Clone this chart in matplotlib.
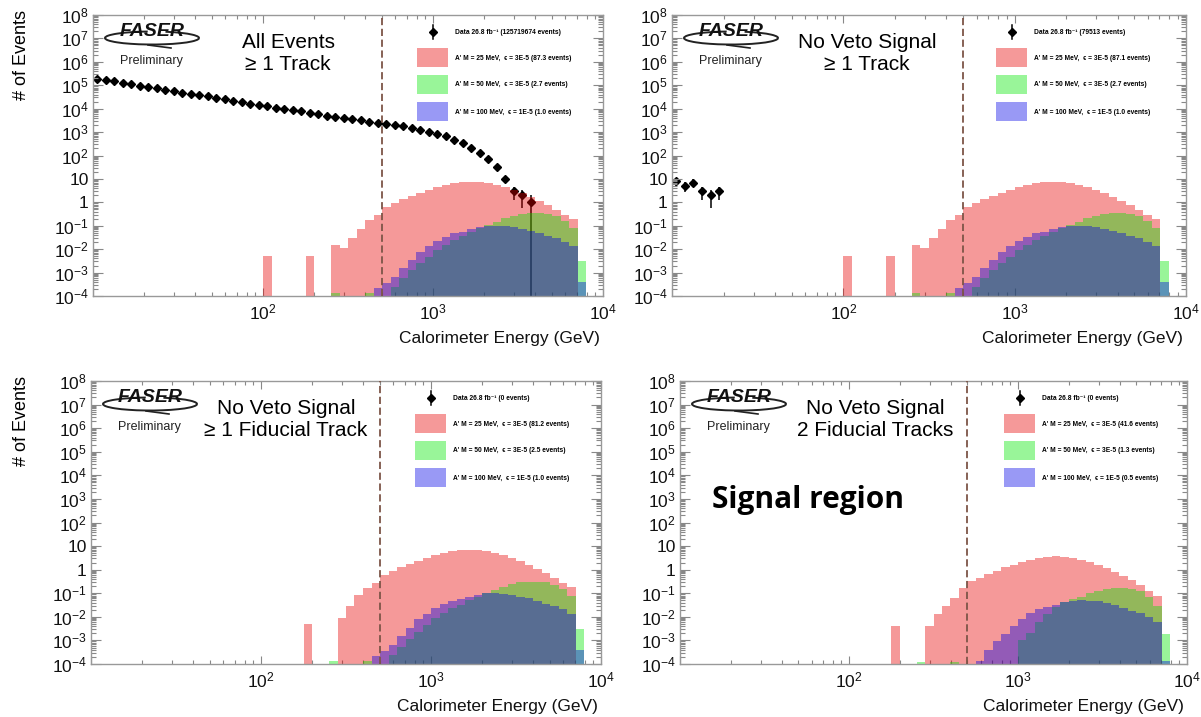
import numpy as np
import matplotlib
matplotlib.use('Agg')
import matplotlib.pyplot as plt
from matplotlib.patches import Rectangle, Arc
from matplotlib.ticker import FixedLocator, FixedFormatter, NullFormatter

plt.rcParams['font.family'] = ['Liberation Sans', 'DejaVu Sans']
plt.rcParams['mathtext.fontset'] = 'custom'
plt.rcParams['mathtext.rm'] = 'Liberation Sans'
plt.rcParams['mathtext.it'] = 'Liberation Sans:italic'
plt.rcParams['mathtext.bf'] = 'Liberation Sans:bold'

# binning: 20 bins per decade starting at 10 GeV
log_edges = np.round(np.arange(1.0, 3.901, 0.05), 2)
edges = 10 ** log_edges
sig_edges = edges[20:]          # signal histograms start at 100 GeV
centers = np.sqrt(edges[:-1] * edges[1:])

# data counts, one per bin from 10 GeV
data_all = [182000, 162000, 145000, 126000, 110000, 95500, 83000, 74000, 64500, 56000,
            49000, 42700, 37200, 33100, 28800, 25100, 21900, 19000, 16600, 14800,
            12900, 11200, 10000, 8700, 7600, 6800, 5900, 5100, 4600, 4000,
            3550, 3160, 2800, 2500, 2240, 2000, 1740, 1510, 1260, 1050,
            850, 660, 480, 330, 214, 126, 71, 32, 10, 3,
            2, 1]
data_noveto = [8, 5, 7, 3, 2, 3]

# signal expectations, bins from 10^2.00 to 10^3.90 GeV
red_1trk = [0.005, 0, 0, 0, 0, 0.005, 0, 0,
            0.015, 0.011, 0.03, 0.072, 0.18, 0.29, 0.62, 0.91, 1.35, 1.86,
            2.6, 3.4, 4.5, 5.5, 6.6, 7.2, 7.6, 7.2, 6.6, 5.5,
            4.5, 3.4, 2.45, 1.74, 1.17, 0.78, 0.48, 0.29, 0.19, 0]
green_1trk = [0, 0, 0, 0, 0, 0, 0, 0,
              0.00013, 0, 0, 0, 0.00013, 0, 0, 0.00025, 0.00058, 0.0013,
              0.0025, 0.0048, 0.0093, 0.015, 0.025, 0.036, 0.056, 0.078, 0.107, 0.15,
              0.21, 0.26, 0.32, 0.34, 0.34, 0.31, 0.25, 0.16, 0.08, 0.003]
blue_1trk = [0, 0, 0, 0, 0, 0, 0, 0,
             0, 0, 0, 0, 0, 0.00021, 0.00035, 0.00066, 0.0015, 0.0035,
             0.0078, 0.013, 0.023, 0.034, 0.048, 0.056, 0.071, 0.087, 0.098, 0.098,
             0.095, 0.087, 0.072, 0.062, 0.048, 0.036, 0.030, 0.021, 0.013, 0.0004]

red_fid = [0, 0, 0, 0, 0, 0.005, 0, 0,
           0, 0.0093, 0.03, 0.085, 0.17, 0.28, 0.58, 0.85, 1.26, 1.73,
           2.4, 3.2, 4.2, 5.1, 6.1, 6.7, 7.1, 6.7, 6.1, 5.1,
           4.2, 3.2, 2.3, 1.62, 1.09, 0.72, 0.45, 0.27, 0.18, 0]
green_fid = [0, 0, 0, 0, 0, 0, 0, 0,
             0.00013, 0, 0, 0, 0.00013, 0, 0, 0.00023, 0.00054, 0.0012,
             0.0023, 0.0045, 0.0086, 0.014, 0.023, 0.033, 0.052, 0.072, 0.099, 0.14,
             0.19, 0.24, 0.30, 0.31, 0.31, 0.29, 0.23, 0.15, 0.075, 0.003]
blue_fid = blue_1trk

red_2trk = [0, 0, 0, 0, 0, 0.004, 0, 0,
            0, 0.0042, 0.013, 0.03, 0.065, 0.16, 0.33, 0.45, 0.65, 0.9,
            1.25, 1.65, 2.15, 2.65, 3.2, 3.5, 3.7, 3.5, 3.2, 2.65,
            2.15, 1.6, 1.15, 0.82, 0.55, 0.36, 0.22, 0.13, 0.075, 0]
green_2trk = [0, 0, 0, 0, 0, 0, 0, 0,
              0.00012, 0, 0, 0, 0.00012, 0, 0, 0, 0, 0,
              0, 0, 0.001, 0.0021, 0.0058, 0.013, 0.025, 0.041, 0.055, 0.072,
              0.10, 0.125, 0.15, 0.16, 0.16, 0.15, 0.12, 0.07, 0.028, 0.0018]
blue_2trk = [0, 0, 0, 0, 0, 0, 0, 0,
             0, 0, 0, 0, 0, 0, 0, 0.00014, 0.0004, 0.0009,
             0.0018, 0.004, 0.008, 0.014, 0.021, 0.026, 0.033, 0.041, 0.048, 0.05,
             0.049, 0.045, 0.038, 0.031, 0.024, 0.018, 0.014, 0.01, 0.006, 0.00013]

cut_energy = 500

titles = [("All Events", "\u2265 1 Track"),
          ("No Veto Signal", "\u2265 1 Track"),
          ("No Veto Signal", "\u2265 1 Fiducial Track"),
          ("No Veto Signal", "2 Fiducial Tracks")]
data_labels = ["125719674", "79513", "0", "0"]
sig_events = [("87.3", "2.7", "1.0"), ("87.1", "2.7", "1.0"),
              ("81.2", "2.5", "1.0"), ("41.6", "1.3", "0.5")]
sig_names = ["A' M = 25 MeV,  \u03f5 = 3E-5", "A' M = 50 MeV,  \u03f5 = 3E-5",
             "A' M = 100 MeV,  \u03f5 = 1E-5"]
sig_colors = ['#e60000', '#00e600', '#0000e6']

W, H = 1201, 717
fig = plt.figure(figsize=(W / 100, H / 100), dpi=100)

# frame boxes in pixels: left, top, right, bottom
boxes = [(93, 15, 603, 296), (672, 15, 1186, 296),
         (91, 381, 601, 664), (680, 381, 1187, 664)]


def draw_panel(box, title, data, hists, dlabel, sevents):
    l, t, r, b = box
    ax = fig.add_axes([l / W, 1 - b / H, (r - l) / W, (b - t) / H])
    pw, ph = r - l, b - t

    def fr(dx, dy):
        return dx / pw, 1 - dy / ph

    ax.set_xscale('log')
    ax.set_yscale('log')
    ax.set_xlim(10, 1e4)
    ax.set_ylim(1e-4, 1e8)

    if data:
        n = np.array(data, dtype=float)
        ax.errorbar(centers[:len(n)], n, yerr=np.sqrt(n), fmt='D', color='black',
                    ms=4.2, elinewidth=1.1, capsize=0, zorder=1)

    for vals, col in zip(hists, sig_colors):
        v = np.maximum(np.array(vals, dtype=float), 1e-6)
        ax.stairs(v, sig_edges, baseline=1e-6, fill=True, color=col, alpha=0.4,
                  lw=0, zorder=2)

    ax.axvline(cut_energy, color='#7d5548', ls=(0, (4, 2)), lw=1.3, zorder=3)

    # axis styling (ROOT-like)
    for sp in ax.spines.values():
        sp.set_color('#999999')
        sp.set_linewidth(1.0)
    ax.yaxis.set_major_locator(FixedLocator(10.0 ** np.arange(-4, 9)))
    ylabs = []
    for e in range(-4, 9):
        if e == 0:
            ylabs.append('1')
        elif e == 1:
            ylabs.append('10')
        else:
            ylabs.append(r'$\mathdefault{10^{%d}}$' % e)
    ax.yaxis.set_major_formatter(FixedFormatter(ylabs))
    ax.yaxis.set_minor_locator(FixedLocator([m * 10.0 ** e for e in range(-4, 8) for m in range(2, 10)]))
    ax.yaxis.set_minor_formatter(NullFormatter())
    ax.xaxis.set_major_locator(FixedLocator([10, 100, 1000, 10000]))
    ax.xaxis.set_major_formatter(FixedFormatter(['', r'$\mathdefault{10^{2}}$',
                                                 r'$\mathdefault{10^{3}}$', r'$\mathdefault{10^{4}}$']))
    ax.xaxis.set_minor_locator(FixedLocator([m * 10.0 ** e for e in range(1, 4) for m in range(2, 10)]))
    ax.xaxis.set_minor_formatter(NullFormatter())
    ax.tick_params(which='both', direction='in', top=True, right=True, color='#888888',
                   width=0.8, labelsize=12.5, labelcolor='#111111')
    ax.tick_params(axis='y', which='major', length=7, pad=3)
    ax.tick_params(axis='y', which='minor', length=3.5)
    ax.tick_params(axis='x', which='major', length=6, pad=5)
    ax.tick_params(axis='x', which='minor', length=3)

    ax.text(1.0 - 3 / pw, -42 / ph, 'Calorimeter Energy (GeV)', transform=ax.transAxes,
            ha='right', va='center', fontsize=12.5, color='#111111')

    # FASER logo
    ax.add_patch(Arc(fr(59, 23), 94 / pw, 13 / ph, theta1=110, theta2=400,
                     transform=ax.transAxes, color='#222222', lw=1.4, zorder=5))
    ax.plot([fr(55, 30)[0], fr(78, 33)[0]], [fr(55, 30)[1], fr(78, 33)[1]],
            transform=ax.transAxes, color='#222222', lw=1.2, zorder=5)
    x, y = fr(59, 17)
    ax.text(x, y, 'FASER', transform=ax.transAxes, ha='center', va='center',
            fontsize=14, fontweight='bold', fontstyle='italic', color='#111111', zorder=6)
    x, y = fr(58, 46)
    ax.text(x, y, 'Preliminary', transform=ax.transAxes, ha='center', va='center',
            fontsize=9, color='#222222')

    # titles
    x, y = fr(195, 27)
    ax.text(x, y, title[0], transform=ax.transAxes, ha='center', va='center', fontsize=15)
    x, y = fr(195, 50)
    ax.text(x, y, title[1], transform=ax.transAxes, ha='center', va='center', fontsize=15)

    # legend
    x, y = fr(340, 17)
    ax.plot([x], [y], 'D', color='black', ms=4.2, transform=ax.transAxes, zorder=6)
    ax.plot([x, x], [fr(0, 10)[1], fr(0, 24)[1]], color='black', lw=1.1,
            transform=ax.transAxes, zorder=6)
    x, y = fr(362, 17)
    ax.text(x, y, 'Data 26.8 fb\u207b\u00b9 (%s events)' % dlabel, transform=ax.transAxes,
            ha='left', va='center', fontsize=4.8, fontweight='bold')
    for i, (name, ev, col) in enumerate(zip(sig_names, sevents, sig_colors)):
        x0, y0 = fr(324, 52 + 27 * i)
        ax.add_patch(Rectangle((x0, y0), 31 / pw, 19 / ph, transform=ax.transAxes,
                               facecolor=col, alpha=0.4, lw=0, zorder=6))
        x, y = fr(362, 43 + 27 * i)
        ax.text(x, y, '%s (%s events)' % (name, ev), transform=ax.transAxes,
                ha='left', va='center', fontsize=4.8, fontweight='bold')
    return ax


panel_data = [data_all, data_noveto, None, None]
panel_hists = [(red_1trk, green_1trk, blue_1trk), (red_1trk, green_1trk, blue_1trk),
               (red_fid, green_fid, blue_fid), (red_2trk, green_2trk, blue_2trk)]

for i in range(4):
    draw_panel(boxes[i], titles[i], panel_data[i], panel_hists[i], data_labels[i],
               sig_events[i])

fig.text(22 / W, 1 - 55 / H, '# of Events', rotation=90, ha='center', va='center', fontsize=13)
fig.text(22 / W, 1 - 421 / H, '# of Events', rotation=90, ha='center', va='center', fontsize=13)

fig.text(808 / W, 1 - 500 / H, 'Signal region', ha='center', va='center', fontsize=21.5,
         fontweight='bold', family=['Open Sans', 'DejaVu Sans'])

fig.savefig('out.png', dpi=100)
